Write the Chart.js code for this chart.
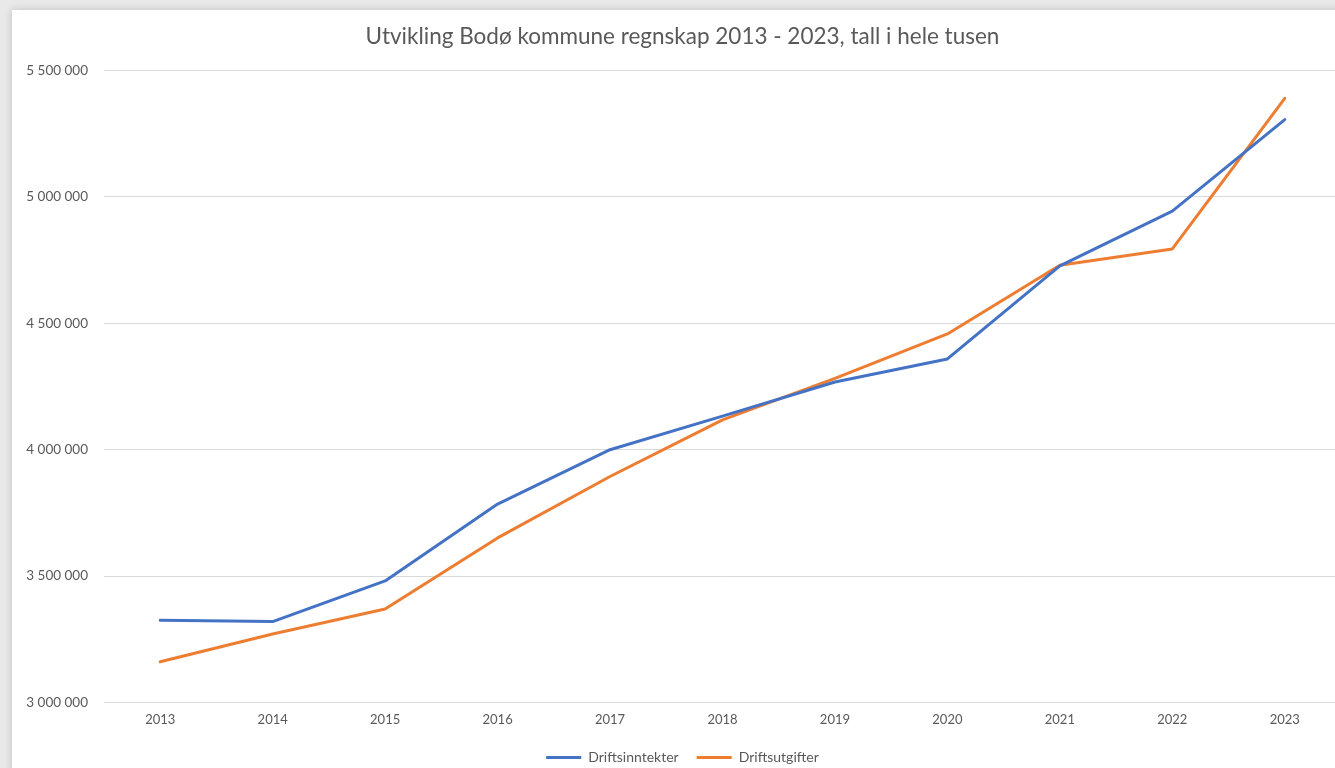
<!DOCTYPE html>
<html>
<head>
<meta charset="utf-8">
<script src="https://cdn.jsdelivr.net/npm/chart.js@4.4.1/dist/chart.umd.min.js"></script>
<style>
  html, body { margin: 0; padding: 0; width: 1335px; height: 768px; overflow: hidden; background: #e9e9e9; }
  #card { position: absolute; left: 12px; top: 10px; width: 1340px; height: 780px; background: #ffffff; box-shadow: 0 0 8px rgba(0,0,0,0.18); }
  #wrap { position: absolute; left: 0; top: 0; }
  canvas { display: block; }
</style>
</head>
<body>
<div id="card"></div>
<div id="wrap"><canvas id="c" width="1341" height="790"></canvas></div>
<script>
const categories = ["2013","2014","2015","2016","2017","2018","2019","2020","2021","2022","2023"];
const driftsinntekter = [3325000, 3320000, 3481000, 3785000, 4000000, 4133000, 4268000, 4359000, 4727000, 4944000, 5306000];
const driftsutgifter  = [3161000, 3271000, 3370000, 3651000, 3894000, 4118000, 4282000, 4458000, 4730000, 4794000, 5390000];
const seriesNames = ["Driftsinntekter", "Driftsutgifter"];
const titleText = "Utvikling Bodø kommune regnskap 2013 - 2023, tall i hele tusen";
const yMin = 3000000, yMax = 5500000, yStep = 500000;

const grey = '#595959';
const fam = 'Lato, "Open Sans", sans-serif';

function fmt(v) { return String(v).replace(/\B(?=(\d{3})+(?!\d))/g, ' '); }

new Chart(document.getElementById('c'), {
  type: 'line',
  data: {
    labels: categories,
    datasets: [
      { label: seriesNames[0], data: driftsinntekter, borderColor: '#4472C4', backgroundColor: '#4472C4', borderWidth: 3, pointRadius: 0, tension: 0, borderCapStyle: 'round', borderJoinStyle: 'round' },
      { label: seriesNames[1], data: driftsutgifter, borderColor: '#ED7D31', backgroundColor: '#ED7D31', borderWidth: 3, pointRadius: 0, tension: 0, borderCapStyle: 'round', borderJoinStyle: 'round' }
    ]
  },
  options: {
    responsive: false,
    animation: false,
    layout: { padding: { left: 24, top: 10, right: 0, bottom: 15.5 } },
    plugins: {
      title: {
        display: true, text: titleText, color: grey,
        font: { family: fam, size: 22.5, weight: 'normal' },
        padding: { top: 13, bottom: 20.5 }
      },
      legend: {
        position: 'bottom',
        labels: {
          color: grey, font: { family: fam, size: 14 },
          boxWidth: 35, boxHeight: 3, padding: 18,
          generateLabels: (chart) => Chart.defaults.plugins.legend.labels.generateLabels(chart).map(it => Object.assign(it, { lineWidth: 0 }))
        }
      },
      tooltip: { enabled: false }
    },
    scales: {
      x: {
        offset: true,
        grid: { display: false, drawTicks: false },
        border: { display: true, color: '#d9d9d9', width: 1 },
        ticks: { color: grey, font: { family: fam, size: 13 }, padding: 10, maxRotation: 0 },
        afterFit: (s) => { s.height = 30; }
      },
      y: {
        min: yMin, max: yMax,
        grid: { color: '#d9d9d9', drawTicks: false, lineWidth: 1 },
        border: { display: false },
        ticks: { stepSize: yStep, color: grey, font: { family: fam, size: 13.5 }, padding: 16, callback: (v) => fmt(v) },
        afterFit: (s) => { s.width = 80; }
      }
    }
  }
});
</script>
</body>
</html>
